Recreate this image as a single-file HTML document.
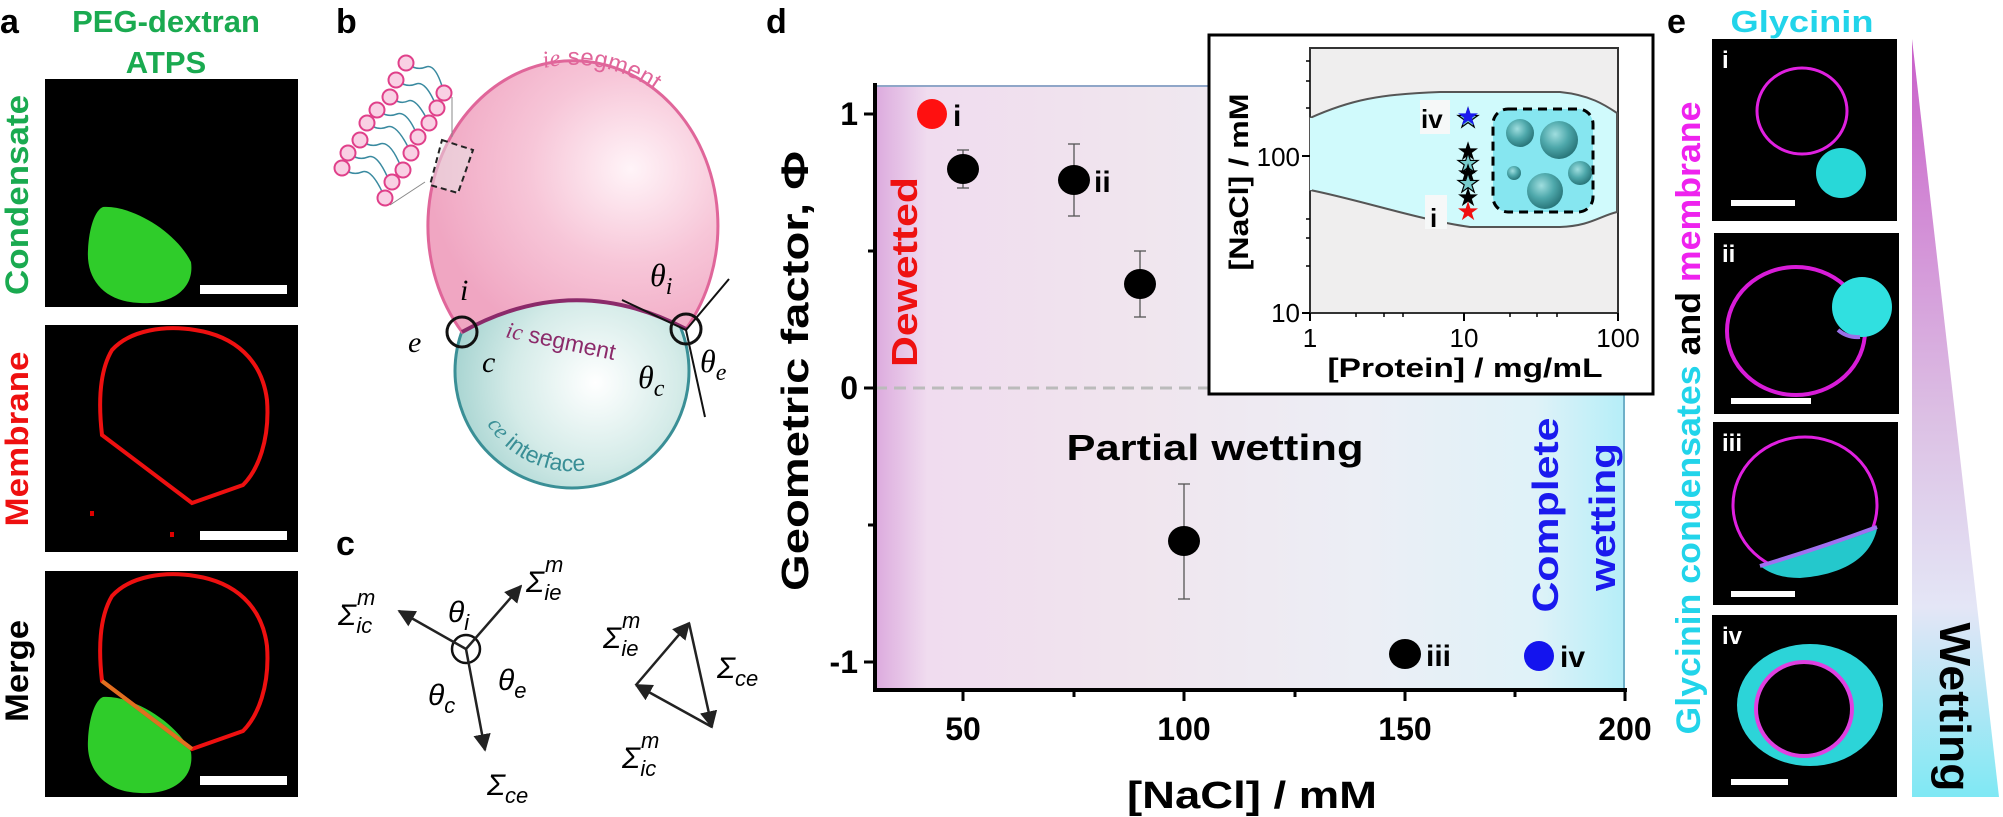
<!DOCTYPE html>
<html><head><meta charset="utf-8"><style>
html,body{margin:0;padding:0;background:#fff;}
svg{display:block;}
text{font-family:"Liberation Sans",sans-serif;}
.s{font-family:"Liberation Serif",serif;font-style:italic;}
.b{font-weight:bold;}
</style></head><body>
<svg width="2003" height="817" viewBox="0 0 2003 817" xmlns="http://www.w3.org/2000/svg">
<defs>
<linearGradient id="dbg" x1="0" x2="1" y1="0" y2="0">
<stop offset="0" stop-color="#dcaade"/><stop offset="0.07" stop-color="#f0dcef"/>
<stop offset="0.35" stop-color="#f0e5ee"/><stop offset="0.65" stop-color="#eceef5"/>
<stop offset="0.88" stop-color="#dff2f8"/><stop offset="1" stop-color="#b5eef8"/>
</linearGradient>
<linearGradient id="wet" x1="0" x2="0" y1="0" y2="1">
<stop offset="0" stop-color="#c95fc9"/><stop offset="0.5" stop-color="#dcc0e4"/>
<stop offset="0.75" stop-color="#e4e6f6"/><stop offset="1" stop-color="#7fe8f4"/>
</linearGradient>
<radialGradient id="pk" cx="0.7" cy="0.4" r="0.7">
<stop offset="0" stop-color="#fff4f8"/><stop offset="0.5" stop-color="#f7c6d8"/><stop offset="1" stop-color="#f0a6c2"/>
</radialGradient>
<radialGradient id="tl" cx="0.6" cy="0.55" r="0.6">
<stop offset="0" stop-color="#ffffff"/><stop offset="0.6" stop-color="#d4ebe8"/><stop offset="1" stop-color="#a9d5d2"/>
</radialGradient>
<radialGradient id="sp" cx="0.4" cy="0.35" r="0.7">
<stop offset="0" stop-color="#9fdedf"/><stop offset="0.5" stop-color="#4ea8ab"/><stop offset="1" stop-color="#246f73"/>
</radialGradient>
<marker id="ar" viewBox="0 0 10 10" refX="9" refY="5" markerWidth="7" markerHeight="7" orient="auto">
<path d="M0,0 L10,5 L0,10 z" fill="#222"/></marker>
<path id="cep" d="M487,424 A100,100 0 0 0 616,461"/>
<path id="iep" d="M544,68 A150,165 0 0 1 684,118"/>
</defs>

<!-- Panel a -->
<text x="0" y="33" class="b" font-size="34">a</text>
<text x="166" y="32" class="b" font-size="31" fill="#1aaa50" text-anchor="middle">PEG-dextran</text>
<text x="166" y="73" class="b" font-size="31" fill="#1aaa50" text-anchor="middle">ATPS</text>
<rect x="45" y="79" width="253" height="228" fill="#000"/>
<rect x="45" y="325" width="253" height="227" fill="#000"/>
<rect x="45" y="571" width="253" height="226" fill="#000"/>
<path d="M103,207 C130,205 175,230 191,262 C195,290 170,305 140,303 C105,302 86,280 88,250 C89,228 95,210 103,207 Z" fill="#2fcc2a"/>
<path d="M192,503 L102,435 C98,400 100,370 112,350 C130,330 165,325 195,330 C235,336 262,360 267,400 C270,440 258,470 243,485 Z" fill="none" stroke="#ee1010" stroke-width="4"/>
<rect x="90" y="511" width="4" height="5" fill="#d00"/><rect x="170" y="532" width="4" height="5" fill="#d00"/>
<path d="M103,697 C130,695 175,720 191,752 C195,780 170,795 140,793 C105,792 86,770 88,740 C89,718 95,700 103,697 Z" fill="#2fcc2a"/>
<path d="M192,749 L102,681 C98,646 100,616 112,596 C130,576 165,571 195,576 C235,582 262,606 267,646 C270,686 258,716 243,731 Z" fill="none" stroke="#ee1010" stroke-width="4"/>
<path d="M102,681 L192,749" stroke="#e07020" stroke-width="4"/>
<rect x="200" y="285" width="87" height="9" fill="#fff"/>
<rect x="200" y="531" width="87" height="9" fill="#fff"/>
<rect x="200" y="776" width="87" height="9" fill="#fff"/>
<text transform="translate(28,195) rotate(-90)" class="b" font-size="32" fill="#1aaa50" text-anchor="middle" textLength="200" lengthAdjust="spacingAndGlyphs">Condensate</text>
<text transform="translate(28,439) rotate(-90)" class="b" font-size="32" fill="#ee1010" text-anchor="middle" textLength="175" lengthAdjust="spacingAndGlyphs">Membrane</text>
<text transform="translate(28,671) rotate(-90)" class="b" font-size="32" fill="#000" text-anchor="middle" textLength="102" lengthAdjust="spacingAndGlyphs">Merge</text>

<!-- Panel b -->
<text x="336" y="33" class="b" font-size="34">b</text>
<circle cx="572" cy="371" r="117" fill="url(#tl)" stroke="#3a8f96" stroke-width="3"/>
<path d="M462,332 A145,165 0 1 1 686,329 Q574,270 462,332 Z" fill="url(#pk)" stroke="#e0669a" stroke-width="3"/>
<path d="M462,332 Q574,270 686,329" fill="none" stroke="#8b2a6a" stroke-width="4"/>
<text font-size="24" fill="#e0669a"><textPath href="#iep"><tspan class="s">ie</tspan> segment</textPath></text>
<text transform="translate(505,337) rotate(12)" font-size="23" fill="#8b2a6a"><tspan class="s">ic</tspan> segment</text>
<text font-size="23" fill="#3a8f96"><textPath href="#cep"><tspan class="s">ce</tspan> interface</textPath></text>
<circle cx="462" cy="332" r="15" fill="none" stroke="#111" stroke-width="3"/>
<circle cx="686" cy="329" r="15" fill="none" stroke="#111" stroke-width="3"/>
<line x1="622" y1="300" x2="686" y2="330" stroke="#111" stroke-width="2"/>
<line x1="686" y1="330" x2="729" y2="279" stroke="#111" stroke-width="2"/>
<line x1="686" y1="330" x2="705" y2="417" stroke="#111" stroke-width="2"/>
<text x="460" y="300" class="s" font-size="30">i</text>
<text x="408" y="352" class="s" font-size="30">e</text>
<text x="482" y="372" class="s" font-size="30">c</text>
<text x="650" y="286" class="s" font-size="32">θ<tspan font-size="24" dy="8">i</tspan></text>
<text x="700" y="372" class="s" font-size="32">θ<tspan font-size="24" dy="8">e</tspan></text>
<text x="638" y="388" class="s" font-size="32">θ<tspan font-size="24" dy="8">c</tspan></text>
<!-- lipid bilayer -->
<g stroke="#3a8aa0" stroke-width="1.5" fill="none">
<path d="M406,63 q10,8 20,4 t18,26"/><path d="M396,80 q10,8 20,4 t21,24"/><path d="M390,97 q10,8 18,4 t21,22"/>
<path d="M377,110 q10,8 20,4 t21,23"/><path d="M367,123 q10,8 20,4 t24,26"/><path d="M360,140 q10,8 20,4 t21,23"/>
<path d="M348,153 q10,8 20,4 t22,26"/><path d="M342,168 q10,8 20,4 t23,26"/>
</g>
<line x1="452" y1="97" x2="452" y2="137" stroke="#888" stroke-width="1"/>
<line x1="425" y1="182" x2="390" y2="205" stroke="#888" stroke-width="1"/>
<g fill="#f9d0e4" stroke="#e0408a" stroke-width="2">
<circle cx="406" cy="63" r="7.5"/><circle cx="396" cy="80" r="7.5"/><circle cx="390" cy="97" r="7.5"/><circle cx="377" cy="110" r="7.5"/>
<circle cx="367" cy="123" r="7.5"/><circle cx="360" cy="140" r="7.5"/><circle cx="348" cy="153" r="7.5"/><circle cx="342" cy="168" r="7.5"/>
<circle cx="444" cy="93" r="7.5"/><circle cx="437" cy="108" r="7.5"/><circle cx="429" cy="123" r="7.5"/><circle cx="418" cy="137" r="7.5"/>
<circle cx="411" cy="153" r="7.5"/><circle cx="403" cy="170" r="7.5"/><circle cx="392" cy="182" r="7.5"/><circle cx="385" cy="198" r="7.5"/>
</g>
<path d="M442,140 L473,150 L458,193 L430,185 Z" fill="#e8e8e8" fill-opacity="0.5" stroke="#222" stroke-width="2" stroke-dasharray="6,4"/>

<!-- Panel c -->
<text x="336" y="555" class="b" font-size="34">c</text>
<circle cx="466" cy="649" r="14" fill="none" stroke="#111" stroke-width="2.5"/>
<g stroke="#222" stroke-width="2.5" marker-end="url(#ar)">
<line x1="466" y1="649" x2="399" y2="611"/><line x1="466" y1="649" x2="521" y2="586"/><line x1="466" y1="649" x2="485" y2="750"/>
<line x1="636" y1="685" x2="689" y2="623"/><line x1="689" y1="623" x2="712" y2="727"/><line x1="712" y1="727" x2="636" y2="685"/>
</g>
<g class="s" font-size="30">
<text x="338" y="625">Σ<tspan font-size="22" dx="1" dy="-20">m</tspan><tspan font-size="22" dx="-19" dy="28">ic</tspan></text>
<text x="448" y="622">θ<tspan font-size="22" dy="8">i</tspan></text>
<text x="526" y="592">Σ<tspan font-size="22" dx="1" dy="-20">m</tspan><tspan font-size="22" dx="-19" dy="28">ie</tspan></text>
<text x="498" y="690">θ<tspan font-size="22" dy="8">e</tspan></text>
<text x="428" y="705">θ<tspan font-size="22" dy="8">c</tspan></text>
<text x="487" y="795">Σ<tspan font-size="22" dy="8">ce</tspan></text>
<text x="603" y="648">Σ<tspan font-size="22" dx="1" dy="-20">m</tspan><tspan font-size="22" dx="-19" dy="28">ie</tspan></text>
<text x="717" y="678">Σ<tspan font-size="22" dy="8">ce</tspan></text>
<text x="622" y="768">Σ<tspan font-size="22" dx="1" dy="-20">m</tspan><tspan font-size="22" dx="-19" dy="28">ic</tspan></text>
</g>

<!-- Panel d -->
<text x="766" y="33" class="b" font-size="34">d</text>
<rect x="875" y="85" width="750" height="605" fill="url(#dbg)"/>
<line x1="875" y1="86" x2="1625" y2="86" stroke="#8fa6c8" stroke-width="2"/>
<line x1="1624" y1="85" x2="1624" y2="690" stroke="#6fb0c8" stroke-width="2"/>
<line x1="875" y1="388" x2="1625" y2="388" stroke="#bbb" stroke-width="3" stroke-dasharray="12,7"/>
<line x1="875" y1="83" x2="875" y2="692" stroke="#000" stroke-width="4"/>
<line x1="873" y1="690" x2="1627" y2="690" stroke="#000" stroke-width="4"/>
<g stroke="#000" stroke-width="3">
<line x1="864" y1="114" x2="875" y2="114"/><line x1="864" y1="388" x2="875" y2="388"/><line x1="864" y1="662" x2="875" y2="662"/>
<line x1="868" y1="251" x2="875" y2="251"/><line x1="868" y1="525" x2="875" y2="525"/>
<line x1="963" y1="690" x2="963" y2="701"/><line x1="1184" y1="690" x2="1184" y2="701"/><line x1="1405" y1="690" x2="1405" y2="701"/><line x1="1625" y1="690" x2="1625" y2="701"/>
<line x1="1074" y1="690" x2="1074" y2="697"/><line x1="1295" y1="690" x2="1295" y2="697"/><line x1="1515" y1="690" x2="1515" y2="697"/>
</g>
<g class="b" font-size="32" text-anchor="end">
<text x="858" y="125">1</text><text x="858" y="399">0</text><text x="858" y="673">-1</text>
</g>
<g class="b" font-size="32" text-anchor="middle">
<text x="963" y="740">50</text><text x="1184" y="740">100</text><text x="1405" y="740">150</text><text x="1625" y="740">200</text>
</g>
<text x="1252" y="808" class="b" font-size="38" text-anchor="middle" textLength="250" lengthAdjust="spacingAndGlyphs">[NaCl] / mM</text>
<text transform="translate(808,371) rotate(-90)" class="b" font-size="38" text-anchor="middle" textLength="440" lengthAdjust="spacingAndGlyphs">Geometric factor, Φ</text>
<text transform="translate(917,272) rotate(-90)" class="b" font-size="36" fill="#ee1111" text-anchor="middle" textLength="190" lengthAdjust="spacingAndGlyphs">Dewetted</text>
<text x="1215" y="460" class="b" font-size="36" text-anchor="middle" textLength="297" lengthAdjust="spacingAndGlyphs">Partial wetting</text>
<text transform="translate(1558,515) rotate(-90)" class="b" font-size="36" fill="#1a1aee" text-anchor="middle" textLength="195" lengthAdjust="spacingAndGlyphs">Complete</text>
<text transform="translate(1615,517) rotate(-90)" class="b" font-size="36" fill="#1a1aee" text-anchor="middle" textLength="148" lengthAdjust="spacingAndGlyphs">wetting</text>
<g stroke="#555" stroke-width="1.3">
<line x1="963" y1="150" x2="963" y2="188"/><line x1="957" y1="150" x2="969" y2="150"/><line x1="957" y1="188" x2="969" y2="188"/>
<line x1="1074" y1="144" x2="1074" y2="216"/><line x1="1068" y1="144" x2="1080" y2="144"/><line x1="1068" y1="216" x2="1080" y2="216"/>
<line x1="1140" y1="251" x2="1140" y2="317"/><line x1="1134" y1="251" x2="1146" y2="251"/><line x1="1134" y1="317" x2="1146" y2="317"/>
<line x1="1184" y1="484" x2="1184" y2="599"/><line x1="1178" y1="484" x2="1190" y2="484"/><line x1="1178" y1="599" x2="1190" y2="599"/>
</g>
<ellipse cx="932" cy="114" rx="15" ry="15" fill="#ff1010"/>
<ellipse cx="963" cy="169" rx="16" ry="15" fill="#000"/>
<ellipse cx="1074" cy="180" rx="16" ry="15" fill="#000"/>
<ellipse cx="1140" cy="284" rx="16" ry="15" fill="#000"/>
<ellipse cx="1184" cy="541" rx="16" ry="15" fill="#000"/>
<ellipse cx="1405" cy="654" rx="16" ry="15" fill="#000"/>
<ellipse cx="1539" cy="656" rx="15" ry="15" fill="#1414ee"/>
<g class="b" font-size="30">
<text x="953" y="126">i</text><text x="1094" y="192">ii</text><text x="1426" y="666">iii</text><text x="1560" y="667">iv</text>
</g>
<!-- inset -->
<rect x="1209" y="35" width="444" height="359" fill="#fff" stroke="#000" stroke-width="3"/>
<rect x="1310" y="48" width="308" height="265" fill="#efeeee" stroke="#333" stroke-width="2"/>
<path d="M1310,118 C1350,100 1380,94 1440,92 L1560,92 C1590,95 1605,105 1617,113 L1617,212 C1600,216 1590,226 1560,227 L1470,227 C1420,220 1360,200 1310,190 Z" fill="#d0fafc" stroke="#555" stroke-width="2"/>
<rect x="1310" y="118" width="2" height="72" fill="#d0fafc"/>
<rect x="1493" y="109" width="100" height="103" rx="15" fill="#86e6f0" stroke="#000" stroke-width="3" stroke-dasharray="9,6"/>
<circle cx="1520" cy="133" r="14" fill="url(#sp)"/><circle cx="1559" cy="140" r="19" fill="url(#sp)"/>
<circle cx="1514" cy="173" r="7" fill="url(#sp)"/><circle cx="1580" cy="173" r="12" fill="url(#sp)"/><circle cx="1545" cy="191" r="18" fill="url(#sp)"/>
<g font-size="26" text-anchor="middle" fill-opacity="1">
<text x="1468" y="127" fill="#7cc" stroke="#000" stroke-width="1.2">★</text>
<text x="1468" y="160" fill="#000">★</text><text x="1468" y="172" fill="#7cc" stroke="#000" stroke-width="1.2">★</text>
<text x="1468" y="182" fill="#000">★</text><text x="1468" y="192" fill="#7cc" stroke="#000" stroke-width="1.2">★</text>
<text x="1468" y="206" fill="#000">★</text>
<text x="1468" y="220" fill="#f01010">★</text>
<text x="1468" y="125" fill="#1a1aee">★</text>
</g>
<rect x="1420" y="100" width="30" height="34" fill="#f6f8f8"/>
<text x="1421" y="128" class="b" font-size="26">iv</text>
<rect x="1425" y="195" width="22" height="34" fill="#f6f8f8"/>
<text x="1430" y="227" class="b" font-size="26">i</text>
<g stroke="#000" stroke-width="2">
<line x1="1302" y1="156" x2="1310" y2="156"/><line x1="1302" y1="313" x2="1310" y2="313"/>
<line x1="1310" y1="313" x2="1310" y2="321"/><line x1="1464" y1="313" x2="1464" y2="321"/><line x1="1618" y1="313" x2="1618" y2="321"/>
</g>
<g stroke="#000" stroke-width="1.5">
<line x1="1306" y1="108" x2="1310" y2="108"/><line x1="1306" y1="81" x2="1310" y2="81"/><line x1="1306" y1="61" x2="1310" y2="61"/>
<line x1="1306" y1="266" x2="1310" y2="266"/><line x1="1306" y1="238" x2="1310" y2="238"/><line x1="1306" y1="219" x2="1310" y2="219"/>
<line x1="1356" y1="313" x2="1356" y2="317"/><line x1="1384" y1="313" x2="1384" y2="317"/><line x1="1403" y1="313" x2="1403" y2="317"/>
<line x1="1510" y1="313" x2="1510" y2="317"/><line x1="1537" y1="313" x2="1537" y2="317"/><line x1="1557" y1="313" x2="1557" y2="317"/>
</g>
<g font-size="26" text-anchor="end"><text x="1300" y="166">100</text><text x="1300" y="322">10</text></g>
<g font-size="26" text-anchor="middle"><text x="1310" y="347">1</text><text x="1464" y="347">10</text><text x="1618" y="347">100</text></g>
<text x="1465" y="377" class="b" font-size="27" text-anchor="middle" textLength="275" lengthAdjust="spacingAndGlyphs">[Protein] / mg/mL</text>
<text transform="translate(1248,182) rotate(-90)" class="b" font-size="27" text-anchor="middle" textLength="177" lengthAdjust="spacingAndGlyphs">[NaCl] / mM</text>

<!-- Panel e -->
<text x="1667" y="33" class="b" font-size="34">e</text>
<text x="1802" y="32" class="b" font-size="31" fill="#22d4ea" text-anchor="middle" textLength="143" lengthAdjust="spacingAndGlyphs">Glycinin</text>
<text transform="translate(1700,418) rotate(-90)" class="b" font-size="34" text-anchor="middle" textLength="633" lengthAdjust="spacingAndGlyphs"><tspan fill="#22d4ea">Glycinin condensates </tspan><tspan fill="#000">and </tspan><tspan fill="#ee22ee">membrane</tspan></text>
<rect x="1712" y="39" width="185" height="182" fill="#000"/>
<rect x="1714" y="233" width="185" height="181" fill="#000"/>
<rect x="1713" y="422" width="185" height="183" fill="#000"/>
<rect x="1712" y="615" width="185" height="182" fill="#000"/>
<ellipse cx="1802" cy="111" rx="45" ry="43" fill="none" stroke="#e020e0" stroke-width="3"/>
<circle cx="1841" cy="173" r="25" fill="#28d8d8"/>
<ellipse cx="1796" cy="331" rx="69" ry="64" fill="none" stroke="#d81cd8" stroke-width="4"/>
<circle cx="1862" cy="307" r="30" fill="#30e0e0"/>
<path d="M1838,330 A30,30 0 0 0 1860,337" fill="none" stroke="#9a70e8" stroke-width="4"/>
<ellipse cx="1805" cy="505" rx="72" ry="68" fill="none" stroke="#e020e0" stroke-width="3"/>
<path d="M1760,566 Q1820,550 1877,529 C1870,560 1840,575 1800,578 C1780,578 1770,573 1760,566 Z" fill="#24c8cc"/>
<path d="M1760,566 Q1820,548 1877,527" fill="none" stroke="#a070f0" stroke-width="4"/>
<ellipse cx="1810" cy="705" rx="73" ry="61" fill="#2cd4d8"/>
<ellipse cx="1804" cy="709" rx="48" ry="47" fill="#000" stroke="#e040e0" stroke-width="4"/>
<g fill="#fff">
<rect x="1731" y="200" width="64" height="6"/><rect x="1731" y="398" width="80" height="6"/>
<rect x="1731" y="591" width="64" height="6"/><rect x="1731" y="779" width="57" height="6"/>
</g>
<g fill="#fff" class="b" font-size="24">
<text x="1722" y="68">i</text><text x="1722" y="262">ii</text><text x="1722" y="451">iii</text><text x="1722" y="644">iv</text>
</g>
<path d="M1912,39 L1999,797 L1912,797 Z" fill="url(#wet)"/>
<text transform="translate(1940,707) rotate(90)" class="b" font-size="44" text-anchor="middle" textLength="169" lengthAdjust="spacingAndGlyphs">Wetting</text>
</svg>
</body></html>
